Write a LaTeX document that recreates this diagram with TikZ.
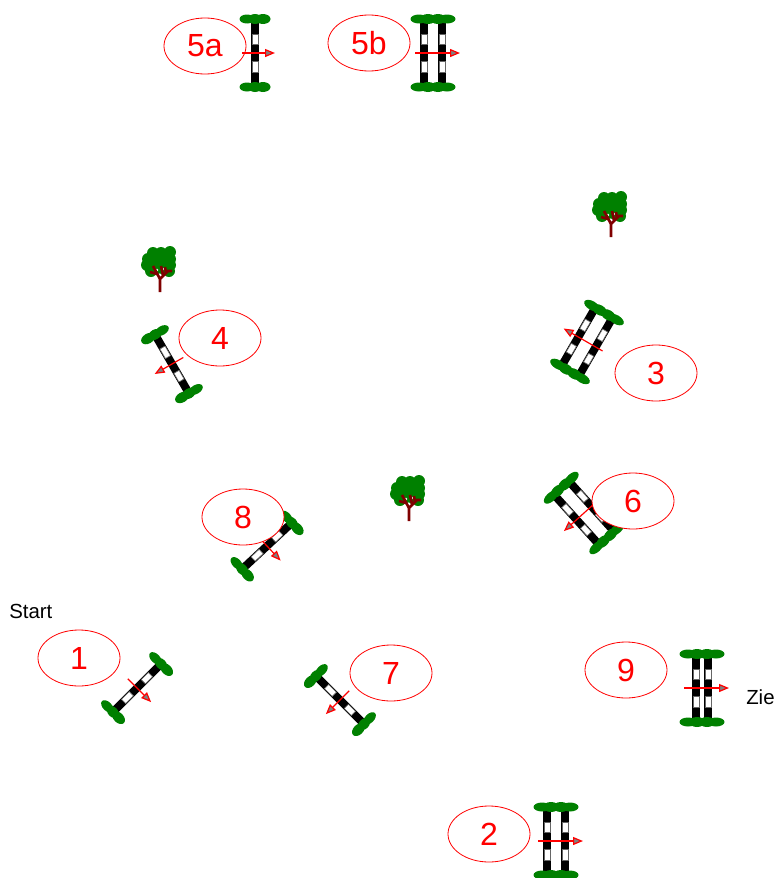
\documentclass[tikz,border=0pt]{standalone}
\usepackage{fontspec}
\setmainfont{Liberation Sans}
\usetikzlibrary{arrows.meta,shapes.geometric}
\definecolor{leaf}{HTML}{008000}
\definecolor{wood}{HTML}{800000}
\tikzset{
  number/.style={draw=red, fill=white, ellipse, line width=0.6pt, text=red, font=\fontsize{24}{24}\selectfont, minimum width=61.5pt, minimum height=42pt, inner sep=0pt},
  label/.style={font=\fontsize{15.3}{16}\selectfont, text=black, inner sep=0pt},
  direction/.style={draw=red, line width=0.9pt, -{Triangle[length=7.5pt, width=6pt, open, fill=gray]}},
  gap/.style={fill=white, draw=black!60, line width=0.5pt},
}
\newcommand{\Pole}[1]{
  \fill[black] (#1-4,-32) rectangle (#1+4,32);
  \filldraw[gap] (#1-3,-19) rectangle (#1+3,-9);
  \filldraw[gap] (#1-3,8) rectangle (#1+3,19);}
\newcommand{\Single}[3]{
  \begin{scope}[shift={(#1,#2)}, rotate=#3]
    \Pole{0}
    \foreach \s in {-1,1} {
      \fill[leaf] (-8,34*\s) ellipse (7.5 and 4.5);
      \fill[leaf] (0,34*\s) ellipse (7 and 5);
      \fill[leaf] (8,34*\s) ellipse (7.5 and 5);}
    \coordinate (tail) at (-13,0); \coordinate (tip) at (20,0);
    \draw[direction] (tail) -- (tip);
  \end{scope}}
\newcommand{\Double}[4]{
  \begin{scope}[shift={(#1,#2)}, rotate=#3]
    \Pole{-#4} \Pole{#4}
    \foreach \s in {-1,1} {
      \fill[leaf] (-14,34*\s) ellipse (8.5 and 4.5);
      \fill[leaf] (-5,34*\s) ellipse (8 and 5);
      \fill[leaf] (5,34*\s) ellipse (8 and 5);
      \fill[leaf] (14,34*\s) ellipse (8.5 and 4.5);}
    \coordinate (tail) at (-18,0); \coordinate (tip) at (27,0);
    \draw[direction] (tail) -- (tip);
  \end{scope}}
\newcommand{\Tree}[2]{
  \begin{scope}[shift={(#1,#2)}]
    \foreach \a/\b in {-7/-39,1/-39,10/-40,10/-33,10/-27,-12/-33,-13/-27,-9/-21,9/-21,0/-30,-6/-30,4/-30,-3/-24,4/-23}
      \fill[leaf] (\a,\b) circle (6);
    \fill[white] (-3,-22) circle (1.3) (4,-23) circle (1.3);
    \draw[wood, line width=2pt] (0,0) -- (0,-13) (0,-13) -- (-7,-26) (0,-13) -- (8,-21) -- (12,-21)
      (-3,-18) -- (-10,-20) (3,-17) -- (1,-26) (6,-19) -- (5,-25);
  \end{scope}}
\begin{document}
\begin{tikzpicture}[x=0.75pt, y=-0.75pt]
  \useasboundingbox (0,0) rectangle (777,878);
  \node[number] (n5a) at (205,46) {5a}; \Single{255}{53}{0}
  \node[number] (n5b) at (369,43) {5b}; \Double{433}{53}{0}{9}
  \Tree{611}{237}
  \Tree{160}{292}
  \Tree{409}{521}
  \Double{587}{342}{150}{10} \node[number] (n3) at (656,373) {3};
  \Single{172}{364}{210} \node[number] (n4) at (220,338) {4};
  \Double{584}{513}{222}{10} \node[number] (n6) at (633,501) {6};
  \Single{267}{546}{-47} \node[number] (n8) at (243,517) {8};
  \Single{137}{688}{-45} \node[number] (n1) at (79,658) {1};
  \Single{340}{700}{225} \node[number] (n7) at (391,673) {7};
  \Double{702}{688}{0}{6} \node[number] (n9) at (626,670) {9};
  \Double{556}{841}{0}{9} \node[number] (n2) at (489,834) {2};
  \node[label, anchor=west] (start) at (9,611) {Start};
  \node[label, anchor=west] (finish) at (746,697) {Zie};
\end{tikzpicture}
\end{document}
